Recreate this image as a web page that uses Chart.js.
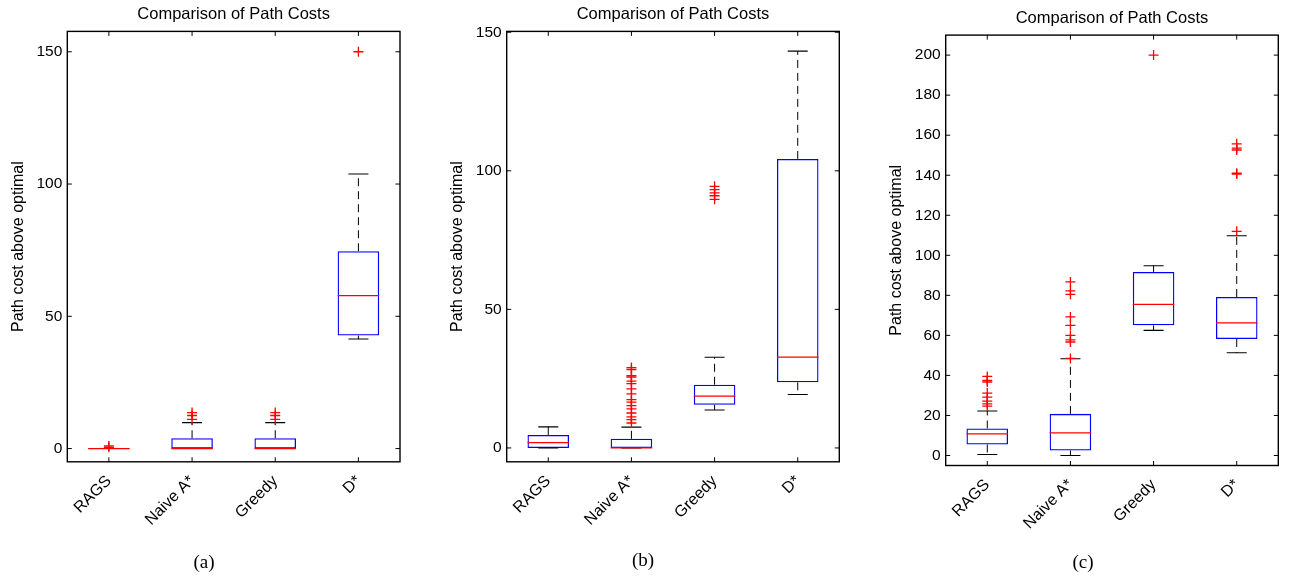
<!DOCTYPE html>
<html>
<head>
<meta charset="utf-8">
<script src="https://cdn.jsdelivr.net/npm/chart.js@4.4.1/dist/chart.umd.min.js"></script>
<style>
  html, body { margin: 0; padding: 0; background: #fff; }
  #wrap { position: relative; width: 1289px; height: 579px; overflow: hidden; background: #fff; }
  canvas { position: absolute; top: 0; }
  .cap { position: absolute; width: 100px; text-align: center; font-family: "Liberation Serif", "Times New Roman", serif; font-size: 19px; line-height: 22px; color: #000; }
</style>
</head>
<body>
<div id="wrap">
  <canvas id="ca" width="412" height="579" style="left:0px"></canvas>
  <canvas id="cb" width="412" height="579" style="left:439px"></canvas>
  <canvas id="cc" width="411" height="579" style="left:878px"></canvas>
  <div class="cap" style="left:154px; top:551px">(a)</div>
  <div class="cap" style="left:593px; top:549px">(b)</div>
  <div class="cap" style="left:1033px; top:551px">(c)</div>
</div>
<script>
// ---------------- DATA ----------------
const categories = ['RAGS', 'Naive A*', 'Greedy', 'D*'];
const chartTitle = 'Comparison of Path Costs';
const yAxisLabel = 'Path cost above optimal';

// Panel (a)
const aLowerWhisker = [0, 0, 0, 41.4];
const aQ1           = [0, 0, 0, 42.7];
const aMedian       = [0, 0, 0, 57.8];
const aQ3           = [0, 3.9, 3.9, 74.6];
const aUpperWhisker = [0, 9.8, 9.8, 103.8];
const aOutliers     = [[0.5, 1.0], [11, 12.5, 13.6], [11, 12.5, 13.6], [150]];
const aTicks        = [0, 50, 100, 150];
const aRange        = [-5, 157.7];

// Panel (b)
const bLowerWhisker = [0, 0, 13.7, 19.3];
const bQ1           = [0, 0, 15.6, 23.7];
const bMedian       = [1.9, 0, 18.7, 32.8];
const bQ3           = [4.7, 3.3, 22.8, 104.3];
const bUpperWhisker = [7.6, 7.5, 32.7, 143.2];
const bOutliers     = [[], [9, 10.2, 11.2, 12.6, 14.1, 15.3, 16.5, 17.4, 19.5, 21.3, 23.2, 24.1, 25.6, 26.1, 28.3, 29], [89.7, 91, 92, 93.2, 94.4], []];
const bTicks        = [0, 50, 100, 150];
const bRange        = [-5, 150.3];

// Panel (c)
const cLowerWhisker = [0.5, 0, 62.5, 51.3];
const cQ1           = [5.5, 2.5, 65, 58.2];
const cMedian       = [10.8, 11.3, 75.5, 66.2];
const cQ3           = [13.5, 20.8, 91.7, 79.2];
const cUpperWhisker = [22.2, 48.3, 94.8, 109.8];
const cOutliers     = [[24.7, 25.8, 27.2, 29.2, 31.2, 36.7, 37.5, 39.5], [48.5, 56.7, 57.8, 60, 65, 69.2, 80.5, 82.2, 86.7], [200], [112, 140.6, 141, 152.6, 153.5, 155.7]];
const cTicks        = [0, 20, 40, 60, 80, 100, 120, 140, 160, 180, 200];
const cRange        = [-5, 210];

// ---------------- DRAWING ----------------
const FONT = '"Liberation Sans", Arial, Helvetica, sans-serif';

const framePlugin = {
  id: 'frame',
  afterDraw(chart) {
    const { ctx, chartArea: a } = chart;
    const x = chart.scales.x, y = chart.scales.y;
    ctx.save();
    ctx.strokeStyle = '#000';
    ctx.lineWidth = 1;
    const L = 4.5;
    ctx.beginPath();
    y.ticks.forEach(t => {
      const py = y.getPixelForValue(t.value);
      ctx.moveTo(a.left, py); ctx.lineTo(a.left + L, py);
      ctx.moveTo(a.right, py); ctx.lineTo(a.right - L, py);
    });
    x.ticks.forEach((t, i) => {
      const px = x.getPixelForTick(i);
      ctx.moveTo(px, a.bottom); ctx.lineTo(px, a.bottom - L);
      ctx.moveTo(px, a.top); ctx.lineTo(px, a.top + L);
    });
    ctx.stroke();
    ctx.lineWidth = 1.4;
    ctx.strokeRect(a.left, a.top, a.right - a.left, a.bottom - a.top);
    ctx.restore();
  }
};

function buildPanel(id, d, geo) {
  const boxes = categories.map((c, i) => [d.q1[i], d.q3[i]]);
  const stems = [];
  categories.forEach((c, i) => {
    stems.push({ x: c, y: d.q3[i] }, { x: c, y: d.uw[i] }, { x: c, y: null },
               { x: c, y: d.q1[i] }, { x: c, y: d.lw[i] }, { x: c, y: null });
  });
  const caps = [];
  categories.forEach((c, i) => { caps.push({ x: c, y: d.uw[i] }, { x: c, y: d.lw[i] }); });
  const meds = categories.map((c, i) => ({ x: c, y: d.med[i] }));
  const outs = [];
  categories.forEach((c, i) => d.out[i].forEach(v => outs.push({ x: c, y: v })));

  const canvas = document.getElementById(id);
  const W = canvas.width, H = canvas.height;
  const TLH = 16.5 * 1.2;

  new Chart(canvas, {
    type: 'bar',
    data: {
      labels: categories,
      datasets: [
        { type: 'line', label: 'median', data: meds, order: 0, showLine: false,
          pointStyle: 'line', pointRadius: 20.8, pointBorderColor: '#ff0000', pointBorderWidth: 1.2,
          pointBackgroundColor: '#ff0000' },
        { type: 'line', label: 'outliers', data: outs, order: 1, showLine: false,
          pointStyle: 'cross', pointRadius: 5, pointBorderColor: '#ff0000', pointBorderWidth: 1.3 },
        { type: 'line', label: 'caps', data: caps, order: 2, showLine: false,
          pointStyle: 'line', pointRadius: 10, pointBorderColor: '#000', pointBorderWidth: 1.1 },
        { type: 'bar', label: 'box', data: boxes, order: 3,
          backgroundColor: 'rgba(0,0,0,0)', borderColor: '#0000ff', borderWidth: 1.3,
          borderSkipped: false, barPercentage: 0.5, categoryPercentage: 1.0, grouped: false },
        { type: 'line', label: 'stems', data: stems, order: 4, spanGaps: false,
          borderColor: '#000', borderWidth: 1, borderDash: [8, 5], pointRadius: 0, fill: false }
      ]
    },
    options: {
      responsive: false,
      animation: false,
      events: [],
      layout: { autoPadding: false, padding: { left: 0, right: W - geo.yw - geo.pw, top: 0, bottom: 0 } },
      plugins: {
        legend: { display: false },
        tooltip: { enabled: false },
        title: {
          display: true, text: chartTitle, fullSize: false, color: '#000',
          font: { family: FONT, size: 16.5, weight: 'normal', lineHeight: 1.2 },
          padding: { top: geo.titleTop, bottom: geo.top - geo.titleTop - TLH }
        }
      },
      scales: {
        x: {
          type: 'category', offset: true,
          grid: { display: false, drawTicks: false },
          border: { display: false },
          ticks: { color: '#000', font: { family: FONT, size: 16 }, minRotation: 45, maxRotation: 45, padding: 10, autoSkip: false },
          afterFit(s) { s.height = H - geo.bottom; s.paddingLeft = 0; s.paddingRight = 0; }
        },
        y: {
          type: 'linear', min: d.range[0], max: d.range[1],
          grid: { display: false, drawTicks: false },
          border: { display: false },
          ticks: { color: '#000', font: { family: FONT, size: 15.5 }, padding: 5, callback: v => String(v) },
          afterBuildTicks(s) { s.ticks = d.ticks.map(v => ({ value: v })); },
          afterFit(s) { s.width = geo.yw; s.paddingTop = 0; s.paddingBottom = 0; },
          title: { display: true, text: yAxisLabel, color: '#000',
                   font: { family: FONT, size: 16, lineHeight: 1.2 }, padding: { top: 8.7, bottom: 0 } }
        }
      }
    },
    plugins: [framePlugin]
  });
}

buildPanel('ca', { lw: aLowerWhisker, q1: aQ1, med: aMedian, q3: aQ3, uw: aUpperWhisker, out: aOutliers, ticks: aTicks, range: aRange },
  { yw: 67.3, pw: 332.7, top: 31.4, bottom: 461.8, titleTop: 4.6 });
buildPanel('cb', { lw: bLowerWhisker, q1: bQ1, med: bMedian, q3: bQ3, uw: bUpperWhisker, out: bOutliers, ticks: bTicks, range: bRange },
  { yw: 67.7, pw: 332.6, top: 31.4, bottom: 461.8, titleTop: 4.6 });
buildPanel('cc', { lw: cLowerWhisker, q1: cQ1, med: cMedian, q3: cQ3, uw: cUpperWhisker, out: cOutliers, ticks: cTicks, range: cRange },
  { yw: 67.7, pw: 332.6, top: 35.1, bottom: 465.5, titleTop: 8.2 });
</script>
</body>
</html>
